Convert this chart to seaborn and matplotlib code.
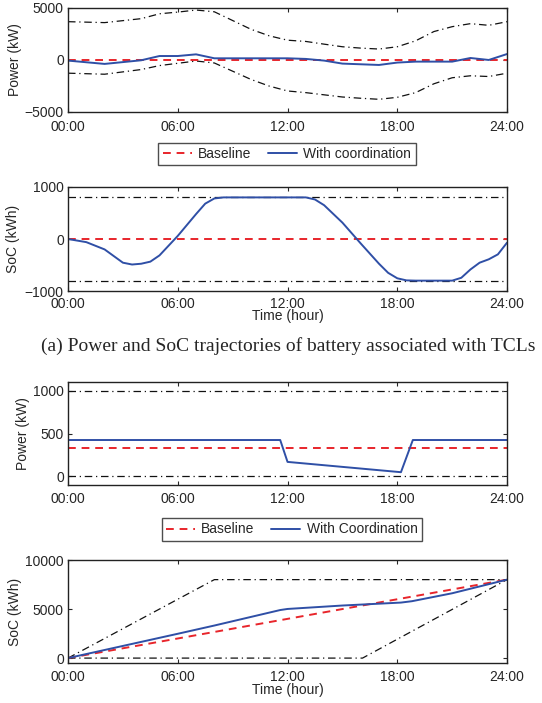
import numpy as np
import pandas as pd
import matplotlib
matplotlib.use("Agg")
import matplotlib.pyplot as plt
import seaborn as sns
from matplotlib.lines import Line2D

# ---------------- data ----------------
# Panel (a1): power of TCL battery
p1_hours = [0, 2, 4, 5, 6, 7, 8, 10, 11, 12, 13, 14, 15, 16, 17, 18, 19, 20, 21, 22, 23, 24]
p1_upper = [3680, 3590, 3970, 4440, 4600, 4800, 4630, 2950, 2320, 1900, 1780, 1520, 1270, 1140, 1050,
            1270, 1840, 2730, 3200, 3490, 3330, 3680]
p1_lower = [-1270, -1370, -920, -540, -320, -100, -290, -1870, -2510, -2980, -3140, -3350, -3560, -3680,
            -3780, -3590, -3140, -2290, -1710, -1520, -1590, -1270]
p1_coord_hours = [0, 2, 4, 5, 6, 7, 8, 10, 12, 13, 14, 15, 17, 18, 19, 21, 22, 23, 24]
p1_coord = [-60, -380, -30, 380, 380, 540, 160, 160, 160, 100, -60, -350, -480, -250, -160, -160, 190, 0, 570]
p1_baseline = [0, 0]

# Panel (a2): SoC of TCL battery
p2_hours = [0, 1, 2, 3, 3.5, 4, 4.5, 5, 6, 7, 7.5, 8, 8.5, 13, 13.5, 14, 15, 16, 17, 17.5, 18, 18.5,
            19, 21, 21.5, 22, 22.5, 23, 23.5, 24]
p2_soc = [0, -60, -200, -455, -490, -475, -435, -315, 60, 480, 680, 780, 800, 800, 760, 650, 315, -85,
          -475, -650, -755, -795, -800, -800, -745, -585, -455, -390, -295, -70]
p2_bound = 800
p2_baseline = [0, 0]

# Panel (b1): power of other battery
p3_hours = [0, 11.6, 12.0, 18.2, 18.85, 24]
p3_coord = [425, 425, 170, 50, 425, 425]
p3_baseline = [335, 335]
p3_bounds = [0, 1000]

# Panel (b2): SoC of other battery
p4_upper_hours = [0, 8, 24]
p4_upper = [0, 8000, 8000]
p4_lower_hours = [0, 16.1, 24]
p4_lower = [0, 0, 8000]
p4_base_hours = [0, 24]
p4_baseline = [0, 8000]
p4_coord_hours = [0, 6, 8, 11.6, 12, 15, 18.2, 18.8, 21, 24]
p4_coord = [0, 2480, 3320, 4900, 5010, 5360, 5660, 5800, 6610, 8000]

xtick_vals = [0, 6, 12, 18, 24]
xtick_labels = ["00:00", "06:00", "12:00", "18:00", "24:00"]

BLUE = "#2f4fa6"
RED = "#e8252b"
BLACK = "#111111"

# ---------------- style ----------------
sns.set_theme(style="ticks")
plt.rcParams["font.family"] = ["Liberation Sans", "DejaVu Sans"]
plt.rcParams["axes.edgecolor"] = "#222222"
plt.rcParams["axes.linewidth"] = 1.0

fig = plt.figure(figsize=(5.42, 7.03), dpi=100)
L, W = 0.1255, 0.810
ax1 = fig.add_axes([L, 0.8407, W, 0.148])
ax2 = fig.add_axes([L, 0.5860, W, 0.148])
ax3 = fig.add_axes([L, 0.3100, W, 0.1465])
ax4 = fig.add_axes([L, 0.0569, W, 0.1465])

FS = 10


def style_axis(ax, ylim, yticks, ylabel, xlabel=None, xpad=5, ylab_x=-0.105):
    ax.set_xlim(0, 24)
    ax.set_ylim(*ylim)
    ax.set_xticks(xtick_vals)
    ax.set_xticklabels(xtick_labels)
    ax.set_yticks(yticks)
    ax.set_xlabel(xlabel if xlabel else "", fontsize=FS, labelpad=-1)
    ax.tick_params(axis="both", labelsize=FS, length=3, width=0.8, direction="in",
                   top=True, right=True)
    ax.tick_params(axis="x", pad=xpad)
    ax.tick_params(axis="y", pad=3)
    ax.set_ylabel(ylabel, fontsize=FS)
    ax.yaxis.set_label_coords(ylab_x, 0.5)
    for s in ax.spines.values():
        s.set_visible(True)
        s.set_linewidth(1.0)
    if ax.get_legend() is not None:
        ax.get_legend().remove()


def line(ax, x, y, **kw):
    df = pd.DataFrame({"x": x, "y": y})
    sns.lineplot(data=df, x="x", y="y", ax=ax, legend=False, estimator=None, sort=False, **kw)


dashdot = dict(color=BLACK, linewidth=0.9, linestyle=(0, (6, 3, 1, 3)))
dashed = dict(color=RED, linewidth=1.4, linestyle=(0, (4, 3)))
solid = dict(color=BLUE, linewidth=1.4)

# Panel 1
line(ax1, p1_hours, p1_upper, **dashdot)
line(ax1, p1_hours, p1_lower, **dashdot)
line(ax1, [0, 24], p1_baseline, **dashed)
line(ax1, p1_coord_hours, p1_coord, **solid)
style_axis(ax1, (-5000, 5000), [-5000, 0, 5000], "Power (kW)", xpad=6)

# Panel 2
line(ax2, [0, 24], [p2_bound, p2_bound], **dashdot)
line(ax2, [0, 24], [-p2_bound, -p2_bound], **dashdot)
line(ax2, [0, 24], p2_baseline, **dashed)
line(ax2, p2_hours, p2_soc, **solid)
style_axis(ax2, (-1000, 1000), [-1000, 0, 1000], "SoC (kWh)", "Time (hour)", xpad=4, ylab_x=-0.11)

# Panel 3
for b in p3_bounds:
    line(ax3, [0, 24], [b, b], **dashdot)
line(ax3, [0, 24], p3_baseline, **dashed)
line(ax3, p3_hours, p3_coord, **solid)
style_axis(ax3, (-100, 1100), [0, 500, 1000], "Power (kW)", xpad=5, ylab_x=-0.087)

# Panel 4
line(ax4, p4_upper_hours, p4_upper, **dashdot)
line(ax4, p4_lower_hours, p4_lower, **dashdot)
line(ax4, p4_base_hours, p4_baseline, **dashed)
line(ax4, p4_coord_hours, p4_coord, **solid)
style_axis(ax4, (-500, 10000), [0, 5000, 10000], "SoC (kWh)", "Time (hour)", xpad=5)

# Legends
h_base = Line2D([], [], **dashed)
h_coord = Line2D([], [], **solid)
for (cx, cy, lab) in [(0.5295, 0.781, "With coordination"), (0.538, 0.2468, "With Coordination")]:
    leg = fig.legend([h_base, h_coord], ["Baseline", lab], loc="center", bbox_to_anchor=(cx, cy),
                     ncol=2, fontsize=FS, frameon=True, fancybox=False, edgecolor="#222222",
                     handlelength=2.1, handletextpad=0.45, columnspacing=1.2, borderpad=0.3,
                     borderaxespad=0.0)
    leg.get_frame().set_linewidth(1.0)

fig.text(0.531, 1 - 346 / 703, "(a) Power and SoC trajectories of battery associated with TCLs",
         ha="center", va="center", fontsize=14, family=["Liberation Serif", "DejaVu Serif"])

fig.savefig("out.png", dpi=100)
